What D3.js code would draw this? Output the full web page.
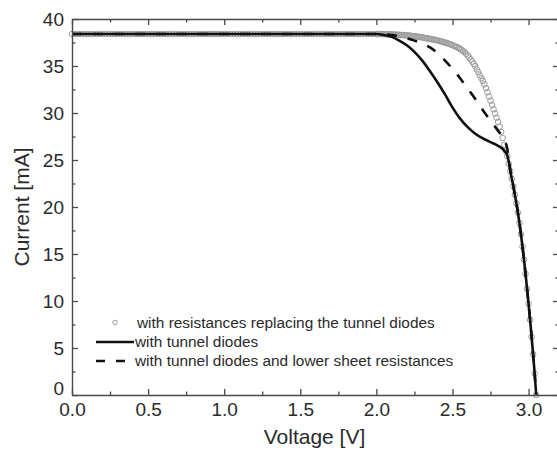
<!DOCTYPE html>
<html><head><meta charset="utf-8">
<script src="https://cdn.jsdelivr.net/npm/d3@7"></script>
<style>
html,body{margin:0;padding:0;background:#fff;}
svg{display:block;font-family:"Liberation Sans",Arial,Helvetica,sans-serif;}
</style></head>
<body>
<svg id="chart" width="557" height="451"></svg>
<script>
// ---------- data ----------
const xTickValues = [0, 0.5, 1.0, 1.5, 2.0, 2.5, 3.0];
const xTickLabels = ["0.0", "0.5", "1.0", "1.5", "2.0", "2.5", "3.0"];
const yTickValues = [0, 5, 10, 15, 20, 25, 30, 35, 40];
const yTickLabels = ["0", "5", "10", "15", "20", "25", "30", "35", "40"];
const legendLabels = [
  "with resistances replacing the tunnel diodes",
  "with tunnel diodes",
  "with tunnel diodes and lower sheet resistances"
];
const xLabel = "Voltage [V]";
const yLabel = "Current [mA]";

// with resistances replacing the tunnel diodes (open circles)
const resistV = [0,0.02,0.04,0.06,0.08,0.1,0.12,0.14,0.16,0.18,0.2,0.22,0.24,0.26,0.28,0.3,0.32,0.34,0.36,0.38,0.4,0.42,0.44,0.46,0.48,0.5,0.52,0.54,0.56,0.58,0.6,0.62,0.64,0.66,0.68,0.7,0.72,0.74,0.76,0.78,0.8,0.82,0.84,0.86,0.88,0.9,0.92,0.94,0.96,0.98,1,1.02,1.04,1.06,1.08,1.1,1.12,1.14,1.16,1.18,1.2,1.22,1.24,1.26,1.28,1.3,1.32,1.34,1.36,1.38,1.4,1.42,1.44,1.46,1.48,1.5,1.52,1.54,1.56,1.58,1.6,1.62,1.64,1.66,1.68,1.7,1.72,1.74,1.76,1.78,1.8,1.82,1.84,1.86,1.88,1.9,1.92,1.94,1.96,1.98,2,
2.01,2.02,2.03,2.04,2.05,2.06,2.07,2.08,2.09,2.1,2.11,2.12,2.13,2.14,2.15,2.16,2.17,2.18,2.19,2.2,2.21,2.22,2.23,2.24,2.25,2.26,2.27,2.28,2.29,2.3,2.31,2.32,2.33,2.34,2.35,2.36,2.37,2.38,2.39,2.4,2.41,2.42,2.43,2.44,2.45,2.46,2.47,2.48,2.49,2.5,2.51,2.52,2.53,2.54,2.55,2.56,2.57,2.58,2.59,2.6,2.61,2.62,2.63,2.64,2.65,2.66,2.67,2.68,2.69,2.7,2.71,2.72,2.73,2.74,2.75,2.76,2.77,2.78,2.79,2.8,2.81,2.82,2.83,2.84,2.85,
2.86,2.87,2.88,2.89,2.9,2.91,2.92,2.93,2.94,2.95,2.96,2.97,2.98,2.99,3,3.01,3.02,3.03,3.04,3.05];
const resistI = [38.4,38.4,38.4,38.4,38.4,38.4,38.4,38.4,38.4,38.4,38.4,38.4,38.4,38.4,38.4,38.4,38.4,38.4,38.4,38.4,38.4,38.4,38.4,38.4,38.4,38.4,38.4,38.4,38.4,38.4,38.4,38.4,38.4,38.4,38.4,38.4,38.4,38.4,38.4,38.4,38.4,38.4,38.4,38.4,38.4,38.4,38.4,38.4,38.4,38.4,38.4,38.4,38.4,38.4,38.4,38.4,38.4,38.4,38.4,38.4,38.4,38.4,38.4,38.4,38.4,38.4,38.4,38.4,38.4,38.4,38.4,38.4,38.4,38.4,38.4,38.4,38.4,38.4,38.4,38.4,38.4,38.4,38.4,38.4,38.4,38.4,38.4,38.4,38.4,38.4,38.4,38.4,38.4,38.4,38.4,38.4,38.4,38.4,38.4,38.4,38.4,
38.4,38.4,38.4,38.39,38.39,38.38,38.38,38.37,38.37,38.36,38.35,38.34,38.33,38.32,38.31,38.3,38.29,38.28,38.27,38.26,38.24,38.22,38.2,38.18,38.16,38.14,38.12,38.1,38.07,38.04,38.01,37.98,37.95,37.92,37.89,37.86,37.83,37.8,37.76,37.72,37.68,37.64,37.6,37.55,37.5,37.45,37.4,37.34,37.28,37.22,37.15,37.08,37.0,36.92,36.83,36.72,36.6,36.46,36.3,36.12,35.92,35.7,35.47,35.23,34.98,34.65,34.35,34.0,33.7,33.4,33.05,32.65,32.2,31.75,31.3,30.85,30.4,29.95,29.5,29.05,28.55,28.0,27.34,26.62,26.0,
25.4,24.6,23.8,23.0,22.2,21.3,20.4,19.4,18.3,17.1,15.8,14.4,12.9,11.3,9.7,8.0,6.2,4.3,2.3,0];

// with tunnel diodes (solid line)
const tunnelV = [0,1,2,2.05,2.1,2.15,2.2,2.25,2.3,2.35,2.4,2.45,2.5,2.55,2.6,2.65,2.7,2.75,2.8,2.84,2.86,2.87,2.88,2.89,2.9,2.91,2.92,2.93,2.94,2.95,2.96,2.97,2.98,2.99,3,3.01,3.02,3.03,3.04,3.05];
const tunnelI = [38.4,38.4,38.4,38.3,38.1,37.7,37.2,36.5,35.6,34.5,33.3,32.0,30.6,29.4,28.5,27.8,27.3,26.9,26.5,26.0,25.5,24.8,23.8,23.0,22.2,21.3,20.4,19.4,18.3,17.1,15.8,14.4,12.9,11.3,9.7,8.0,6.2,4.3,2.3,0];

// with tunnel diodes and lower sheet resistances (dashed line)
const sheetV = [0,1,2,2.05,2.1,2.15,2.2,2.25,2.3,2.35,2.4,2.45,2.5,2.55,2.6,2.65,2.7,2.75,2.8,2.84,2.86,2.87,2.88,2.89,2.9,2.91,2.92,2.93,2.94,2.95,2.96,2.97,2.98,2.99,3,3.01,3.02,3.03,3.04,3.05];
const sheetI = [38.4,38.4,38.4,38.35,38.3,38.15,37.95,37.7,37.4,37.0,36.4,35.6,34.7,33.7,32.6,31.5,30.3,29.2,28.1,27.2,26.2,25.2,24.0,23.0,22.2,21.3,20.4,19.4,18.3,17.1,15.8,14.4,12.9,11.3,9.7,8.0,6.2,4.3,2.3,0];

// ---------- layout ----------
const svg = d3.select("#chart");
svg.append("rect").attr("width",557).attr("height",451).attr("fill","#fff");
const L = 72, R = 559, T = 19, B = 395;
const x = d3.scaleLinear().domain([0, 3.2]).range([L, R]);
const y = d3.scaleLinear().domain([0, 40]).range([B, T]);
const axisColor = "#4a4a4a";
const textColor = "#2a2a2a";

const xMinor = [0.25,0.75,1.25,1.75,2.25,2.75];
const yMinor = [2.5,7.5,12.5,17.5,22.5,27.5,32.5,37.5];

function styleAxis(g){
  g.select(".domain").attr("stroke", axisColor).attr("stroke-width", 1.4);
  g.selectAll(".tick line").attr("stroke", axisColor).attr("stroke-width", 1.3);
  g.selectAll(".tick text").attr("fill", textColor).attr("font-size", 19);
}

// ---------- curves (drawn before the frame) ----------
const line = d3.line().x(d=>x(d[0])).y(d=>y(d[1])).curve(d3.curveMonotoneX);
const sheetPts = sheetV.map((v,i)=>[v, sheetI[i]]);
const tunnelPts = tunnelV.map((v,i)=>[v, tunnelI[i]]);
const resistPts = resistV.map((v,i)=>[v, resistI[i]]);

svg.append("g").selectAll("circle").data(resistPts).join("circle")
  .attr("cx", d=>x(d[0])).attr("cy", d=>y(d[1])).attr("r", 2.8)
  .attr("fill","none").attr("stroke","#9a9a9a").attr("stroke-width",1);
svg.append("path").datum(sheetPts).attr("d", line).attr("fill","none")
  .attr("stroke","#111").attr("stroke-width",2.6).attr("stroke-dasharray","10,11");
svg.append("path").datum(tunnelPts).attr("d", line).attr("fill","none")
  .attr("stroke","#111").attr("stroke-width",2.6);

// bottom
const gB = svg.append("g").attr("transform", `translate(0,${B})`)
  .call(d3.axisBottom(x).tickValues(xTickValues).tickFormat((d,i)=>xTickLabels[i]).tickSizeInner(-6).tickSizeOuter(0).tickPadding(8));
styleAxis(gB);
const gBm = svg.append("g").attr("transform", `translate(0,${B})`)
  .call(d3.axisBottom(x).tickValues(xMinor).tickFormat("").tickSizeInner(-3.5).tickSizeOuter(0));
styleAxis(gBm); gBm.select(".domain").remove();
// top
const gT = svg.append("g").attr("transform", `translate(0,${T})`)
  .call(d3.axisTop(x).tickValues(xTickValues).tickFormat("").tickSizeInner(-6).tickSizeOuter(0));
styleAxis(gT);
const gTm = svg.append("g").attr("transform", `translate(0,${T})`)
  .call(d3.axisTop(x).tickValues(xMinor).tickFormat("").tickSizeInner(-3.5).tickSizeOuter(0));
styleAxis(gTm); gTm.select(".domain").remove();
// left
const gL = svg.append("g").attr("transform", `translate(${L},0)`)
  .call(d3.axisLeft(y).tickValues(yTickValues).tickFormat((d,i)=>yTickLabels[i]).tickSizeInner(-6).tickSizeOuter(0).tickPadding(8));
styleAxis(gL);
gL.selectAll(".tick text").filter(d=>d===0).attr("dy","-0.05em");
const gLm = svg.append("g").attr("transform", `translate(${L},0)`)
  .call(d3.axisLeft(y).tickValues(yMinor).tickFormat("").tickSizeInner(-3.5).tickSizeOuter(0));
styleAxis(gLm); gLm.select(".domain").remove();
// right
const gR = svg.append("g").attr("transform", `translate(${R},0)`)
  .call(d3.axisRight(y).tickValues(yTickValues).tickFormat("").tickSizeInner(-6).tickSizeOuter(0));
styleAxis(gR);
const gRm = svg.append("g").attr("transform", `translate(${R},0)`)
  .call(d3.axisRight(y).tickValues(yMinor).tickFormat("").tickSizeInner(-3.5).tickSizeOuter(0));
styleAxis(gRm); gRm.select(".domain").remove();

// axis titles
svg.append("text").attr("x", (L+R)/2 - 1).attr("y", 444).attr("text-anchor","middle")
  .attr("font-size", 21).attr("fill", textColor).text(xLabel);
svg.append("text").attr("transform", `translate(29,${(T+B)/2}) rotate(-90)`).attr("text-anchor","middle")
  .attr("font-size", 21).attr("fill", textColor).text(yLabel);

// ---------- legend ----------
const lg = svg.append("g");
const rows = [323, 342, 361];
lg.append("circle").attr("cx",115).attr("cy",rows[0]-0.5).attr("r",2.3)
  .attr("fill","none").attr("stroke","#a0a0a0").attr("stroke-width",1);
lg.append("line").attr("x1",96).attr("x2",134).attr("y1",rows[1]).attr("y2",rows[1])
  .attr("stroke","#111").attr("stroke-width",2.4);
lg.append("line").attr("x1",96).attr("x2",134).attr("y1",rows[2]).attr("y2",rows[2])
  .attr("stroke","#111").attr("stroke-width",2.4).attr("stroke-dasharray","9,11");
legendLabels.forEach((t,i)=>{
  lg.append("text").attr("x", i===0 ? 137 : 135).attr("y", rows[i]).attr("dy","0.35em")
    .attr("font-size", 15.4).attr("fill", textColor).text(t);
});
</script>
</body></html>
